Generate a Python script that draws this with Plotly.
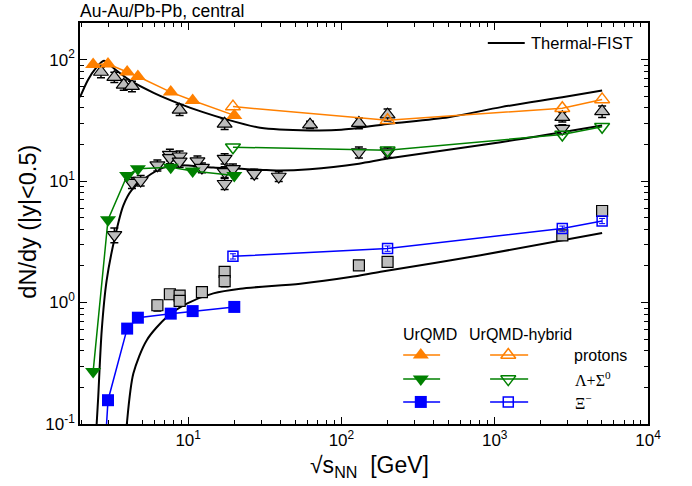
import plotly.graph_objects as go
import numpy as np

# ---------------- data ----------------
# UrQMD (filled symbols)
urqmd_sqrts = [2.4, 3.0, 4.0, 4.7, 7.7, 10.7, 20.0]
urqmd_protons = [91, 92, 79, 72.6, 54, 46, 34.7]
urqmd_lambda = [0.27, 4.8, 11.1, 12.6, 13.0, 12.1, 11.1]
urqmd_xi = [0.0015, 0.157, 0.61, 0.75, 0.81, 0.85, 0.92]

# UrQMD-hybrid (open symbols)
hyb_sqrts = [19.6, 200, 2760, 5020]
hyb_protons = [41, 31.6, 39.8, 47]
hyb_lambda = [19.0, 17.9, 24.2, 28.0]
hyb_xi = [2.40, 2.78, 4.06, 4.69]
hyb_xi_err = [0.12, 0.14, 0.2, 0.23]

# experimental data (grey)
exp_p_sqrts = [2.7, 3.3, 3.8, 4.3, 8.8, 17.3, 62.4, 130, 200, 2760, 5020]
exp_p = [79, 71.6, 62, 60.4, 38.6, 29.6, 29.1, 30, 35.2, 33.6, 37.4]
exp_p_err = [8, 7, 6, 6, 4, 3, 2, 3, 4, 3, 4]

exp_l_sqrts = [3.3, 4.3, 4.9, 6.3, 7.6, 7.6, 8.8, 8.8, 11.5, 12.3, 17.3, 17.3, 17.3, 19.6, 27, 39, 130, 200, 2760]
exp_l = [3.6, 9.7, 10.1, 13.5, 16.5, 15.5, 16, 14.5, 14.6, 12.9, 15.3, 11.9, 9.5, 12.6, 11.5, 10.9, 17.3, 17.3, 27]
exp_l_err = [0.5, 1.0, 1.0, 1.4, 1.8, 1.6, 1.7, 1.5, 1.5, 1.2, 1.5, 1.2, 1.0, 1.2, 1.0, 1.0, 1.8, 1.6, 2.0]

exp_xi_sqrts = [6.3, 7.6, 8.8, 8.8, 12.3, 17.3, 17.3, 130, 200, 2760, 5020]
exp_xi = [0.95, 1.17, 1.14, 1.03, 1.22, 1.79, 1.5, 2.02, 2.16, 3.57, 5.67]
exp_xi_err = [0.1, 0.1, 0.1, 0.1, 0.1, 0.15, 0.15, 0.1, 0.1, 0.2, 0.3]

# Thermal-FIST curves
tf_p_sqrts = [1.97, 2.22, 2.5, 2.82, 3.3, 4.2, 6.0, 8.9, 12.5, 17.2, 29.5, 62, 100, 200, 500, 1100, 2760, 5020]
tf_p = [49, 68, 85, 98, 84, 67, 53, 43, 36.9, 32.6, 27.5, 26.1, 26.4, 29.5, 33.5, 40.6, 49, 55.7]

tf_l_sqrts = [2.45, 2.53, 2.59, 2.73, 2.94, 3.33, 3.78, 4.28, 5.37, 6.9, 8.87, 14.6, 29.5, 39, 62, 130, 200, 1094, 5020]
tf_l = [0.05, 0.1, 0.167, 0.59, 1.52, 3.46, 6.3, 8.4, 10.8, 12.9, 13.5, 12.9, 12.4, 12.2, 12.5, 13.9, 15.3, 20.9, 28.7]

tf_xi_sqrts = [3.9, 3.98, 4.39, 5.37, 7.26, 9.8, 14.6, 21.9, 54, 114, 180, 809, 5020]
tf_xi = [0.07, 0.1, 0.26, 0.49, 0.76, 0.98, 1.19, 1.30, 1.43, 1.62, 1.79, 2.45, 3.73]

# axis ticks
ytick_vals = [0.1, 1, 10, 100]
ytick_text = ["10<sup>-1</sup>", "10<sup>0</sup>", "10<sup>1</sup>", "10<sup>2</sup>"]
xtick_vals = [10, 100, 1000, 10000]
xtick_text = ["10<sup>1</sup>", "10<sup>2</sup>", "10<sup>3</sup>", "10<sup>4</sup>"]

ORANGE = "#FF8000"
GREEN = "#008000"
BLUE = "#0000FF"
GREY = "#BDBDBD"
FONT = "Liberation Sans, Arial, sans-serif"
SERIF = "Liberation Serif, Times New Roman, serif"

fig = go.Figure()

# Thermal-FIST curves
for xs, ys in [(tf_p_sqrts, tf_p), (tf_l_sqrts, tf_l), (tf_xi_sqrts, tf_xi)]:
    fig.add_trace(go.Scatter(x=xs, y=ys, mode="lines",
                             line=dict(color="black", width=2, shape="spline", smoothing=0.8),
                             showlegend=False, hoverinfo="skip"))

# experimental data
for xs, ys, es, sym in [(exp_p_sqrts, exp_p, exp_p_err, "triangle-up"),
                        (exp_l_sqrts, exp_l, exp_l_err, "triangle-down"),
                        (exp_xi_sqrts, exp_xi, exp_xi_err, "square")]:
    fig.add_trace(go.Scatter(x=xs, y=ys, mode="markers",
                             marker=dict(symbol=sym, size=13 if sym != "square" else 11,
                                         color=GREY, line=dict(color="black", width=1.2)),
                             error_y=dict(type="data", array=es, color="black", thickness=1.5, width=4),
                             showlegend=False))

# UrQMD
for ys, col, sym, sz in [(urqmd_protons, ORANGE, "triangle-up", 14),
                         (urqmd_lambda, GREEN, "triangle-down", 14),
                         (urqmd_xi, BLUE, "square", 12)]:
    fig.add_trace(go.Scatter(x=urqmd_sqrts, y=ys, mode="lines+markers",
                             line=dict(color=col, width=1.5),
                             marker=dict(symbol=sym, size=sz, color=col, line=dict(width=0)),
                             showlegend=False))

# UrQMD-hybrid
for ys, col, sym, sz, err in [(hyb_protons, ORANGE, "triangle-up-open", 13, None),
                              (hyb_lambda, GREEN, "triangle-down-open", 13, None),
                              (hyb_xi, BLUE, "square-open", 10, hyb_xi_err)]:
    fig.add_trace(go.Scatter(x=hyb_sqrts, y=ys, mode="lines+markers",
                             line=dict(color=col, width=1.5),
                             marker=dict(symbol=sym, size=sz, color=col, line=dict(width=1.5)),
                             error_y=(dict(type="data", array=err, color=col, thickness=1, width=3)
                                      if err is not None else None),
                             showlegend=False))

# ---------- custom legend on an overlay axis (0..1 over plot area) ----------
rows_y = [0.172, 0.112, 0.055]
cols = [ORANGE, GREEN, BLUE]
fsym = ["triangle-up", "triangle-down", "square"]
osym = ["triangle-up-open", "triangle-down-open", "square-open"]
for ry, c, fs, os_ in zip(rows_y, cols, fsym, osym):
    fig.add_trace(go.Scatter(x=[0.569, 0.634], y=[ry, ry], mode="lines",
                             line=dict(color=c, width=1.5), xaxis="x2", yaxis="y2",
                             showlegend=False, hoverinfo="skip"))
    fig.add_trace(go.Scatter(x=[0.600], y=[ry], mode="markers",
                             marker=dict(symbol=fs, size=14 if fs != "square" else 12, color=c),
                             xaxis="x2", yaxis="y2", showlegend=False, hoverinfo="skip"))
    fig.add_trace(go.Scatter(x=[0.722, 0.789], y=[ry, ry], mode="lines",
                             line=dict(color=c, width=1.5), xaxis="x2", yaxis="y2",
                             showlegend=False, hoverinfo="skip"))
    fig.add_trace(go.Scatter(x=[0.754], y=[ry], mode="markers",
                             marker=dict(symbol=os_, size=13 if os_ != "square-open" else 10, color=c,
                                         line=dict(width=1.5)),
                             xaxis="x2", yaxis="y2", showlegend=False, hoverinfo="skip"))
# Thermal-FIST legend line
fig.add_trace(go.Scatter(x=[0.718, 0.783], y=[0.950, 0.950], mode="lines",
                         line=dict(color="black", width=2), xaxis="x2", yaxis="y2",
                         showlegend=False, hoverinfo="skip"))

ann = []
def txt(x, y, t, size=14, xanchor="left", family=FONT, **kw):
    ann.append(dict(x=x, y=y, xref="paper", yref="paper", text=t, showarrow=False,
                    xanchor=xanchor, yanchor="middle",
                    font=dict(size=size, color="black", family=family), **kw))

txt(0.790, 0.950, "Thermal-FIST", 16.5)
txt(0.616, 0.222, "UrQMD", 16, "center")
txt(0.776, 0.222, "UrQMD-hybrid", 16, "center")
txt(0.866, 0.172, "protons", 16)
txt(0.868, 0.112, "Λ+Σ<sup>0</sup>", 16, family=SERIF)
txt(0.868, 0.055, "Ξ<sup>−</sup>", 16, family=SERIF)
txt(-0.003, 1.030, "Au-Au/Pb-Pb, central", 17.5)
txt(0.51, -0.107, "√s<sub>NN</sub>  [GeV]", 23, "center")
txt(-0.092, 0.504, "dN/dy (|y|<0.5)", 23.5, "center", textangle=-90)

minor_x = [m * 10 ** d for d in range(0, 4) for m in range(2, 10) if m * 10 ** d > 1.97]
minor_y = [m * 10 ** d for d in range(-1, 3) for m in range(2, 10) if m * 10 ** d < 200]

axis_common = dict(showline=True, linecolor="black", linewidth=1.5, mirror="ticks",
                   ticks="inside", ticklen=7, tickwidth=1.3, tickcolor="black",
                   showgrid=False, zeroline=False,
                   tickfont=dict(size=17, family=FONT, color="black"))

fig.update_layout(
    width=692, height=486,
    margin=dict(l=80, r=44, t=23, b=62),
    paper_bgcolor="white", plot_bgcolor="white",
    font=dict(family=FONT, color="black"),
    xaxis=dict(type="log", range=[np.log10(1.97), 4], tickmode="array",
               tickvals=xtick_vals, ticktext=xtick_text,
               minor=dict(tickmode="array", tickvals=minor_x, ticks="inside", ticklen=4,
                          tickwidth=1, tickcolor="black", showgrid=False),
               **axis_common),
    yaxis=dict(type="log", range=[-1, np.log10(200)], tickmode="array",
               tickvals=ytick_vals, ticktext=ytick_text,
               minor=dict(tickmode="array", tickvals=minor_y, ticks="inside", ticklen=4,
                          tickwidth=1, tickcolor="black", showgrid=False),
               **axis_common),
    xaxis2=dict(overlaying="x", range=[0, 1], visible=False, fixedrange=True),
    yaxis2=dict(overlaying="y", range=[0, 1], visible=False, fixedrange=True),
    annotations=ann,
    showlegend=False,
)

fig.write_html("out.html")
